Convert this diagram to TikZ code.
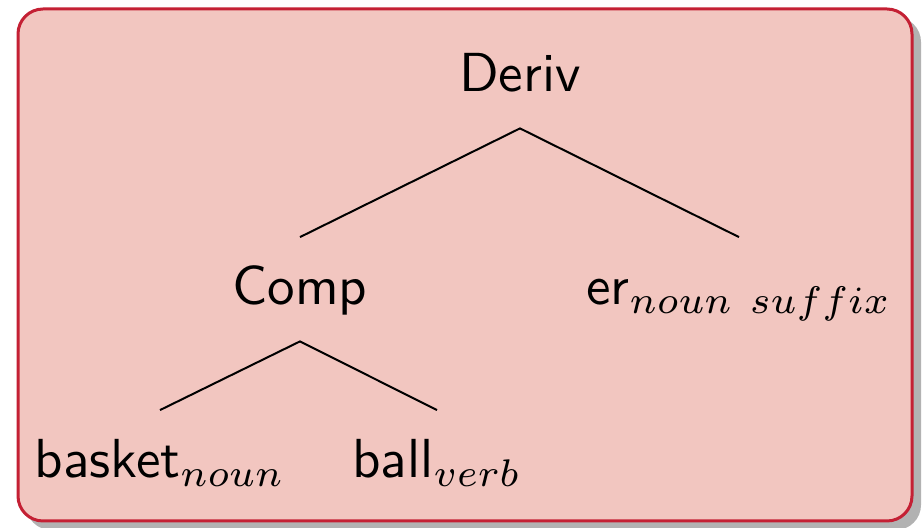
\documentclass[tikz,border=0pt]{standalone}
\usetikzlibrary{calc}
\definecolor{boxfill}{RGB}{242,198,192}
\definecolor{boxframe}{RGB}{196,32,52}
\definecolor{boxshadow}{RGB}{178,178,178}
\newcommand{\treetext}[1]{\scalebox{2.75}{\sffamily #1}}
\begin{document}
\begin{tikzpicture}[x=0.5pt,y=-0.5pt,
  treelabel/.style={inner sep=0pt, anchor=base, text height=33.75pt, text depth=18pt},
  branch/.style={line width=1pt, black}]
  \useasboundingbox (0,0) rectangle (923,528);
  % drop shadow and framed panel
  \fill[boxshadow, rounded corners=12.5pt] (26,17) rectangle (921,530);
  \draw[boxframe, fill=boxfill, line width=1.5pt, rounded corners=12.5pt] (18,9) rectangle (912,521);
  % tree labels
  \node[treelabel] (deriv)  at (520,92)  {\treetext{Deriv}};
  \node[treelabel] (comp)   at (300,305) {\treetext{Comp}};
  \node[treelabel] (suffix) at (739,305) {\treetext{er$_{noun\ suffix}$}};
  \node[treelabel] (basket) at (160,478) {\treetext{basket$_{noun}$}};
  \node[treelabel] (ball)   at (437,478) {\treetext{ball$_{verb}$}};
  % branches
  \draw[branch] (comp.north) -- (deriv.south) -- (suffix.north);
  \draw[branch] (basket.north) -- (comp.south) -- (ball.north);
\end{tikzpicture}
\end{document}
